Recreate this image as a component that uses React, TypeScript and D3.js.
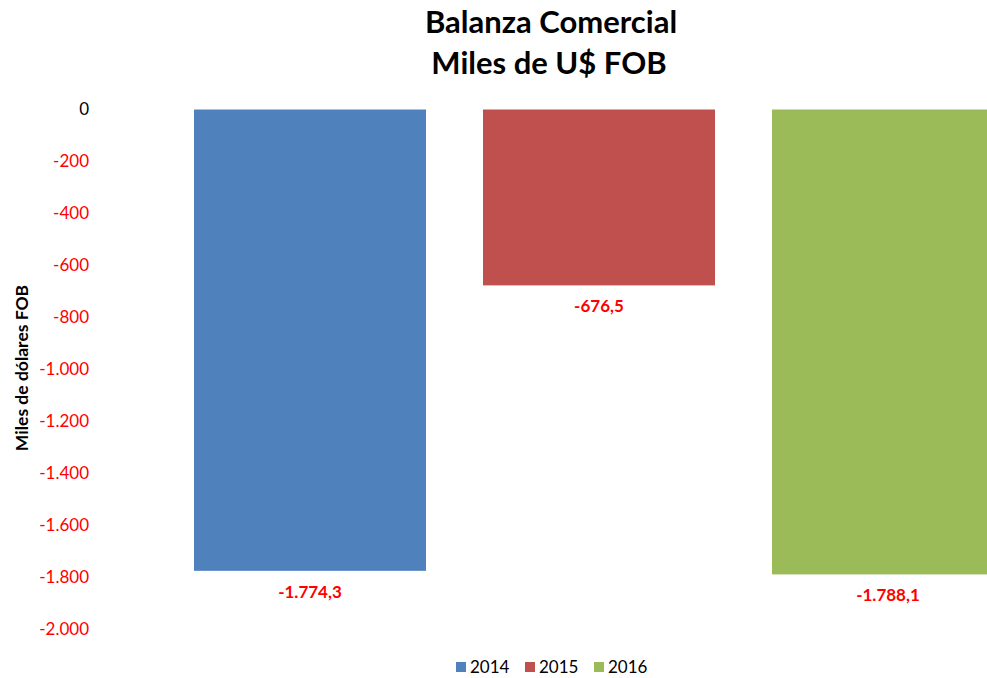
import React from "react";
import * as d3 from "d3";

const years = ["2014", "2015", "2016"];
const values = [-1774.3, -676.5, -1788.1];
const colors = ["#4F81BD", "#C0504D", "#9BBB59"];
const yTicks = [0, -200, -400, -600, -800, -1000, -1200, -1400, -1600, -1800, -2000];
const labels = ["-1.774,3", "-676,5", "-1.788,1"];

const W = 987;
const H = 678;
const FONT = "Lato, 'Open Sans', sans-serif";

const fmt = (v: number) => {
  const s = Math.abs(v).toString().replace(/\B(?=(\d{3})+(?!\d))/g, ".");
  return v < 0 ? "-" + s : s;
};

export default function App() {
  const y = d3.scaleLinear().domain([-2000, 0]).range([629.5, 109.5]);
  const x = d3
    .scaleBand<string>()
    .domain(years)
    .range([194, 1004])
    .paddingInner(57 / 289)
    .paddingOuter(0);

  return (
    <svg
      width={W}
      height={H}
      style={{ position: "absolute", left: 0, top: 0, background: "#fff" }}
      fontFamily={FONT}
    >
      <rect x={0} y={0} width={W} height={H} fill="#fff" />
      <text x={551} y={33} textAnchor="middle" fontSize={31} fontWeight="bold" fill="#000">
        Balanza Comercial
      </text>
      <text x={549} y={74} textAnchor="middle" fontSize={31} fontWeight="bold" fill="#000">
        Miles de U$ FOB
      </text>

      {yTicks.map((t) => (
        <text
          key={t}
          x={89}
          y={y(t)}
          dy="0.35em"
          textAnchor="end"
          fontSize={17}
          fill={t === 0 ? "#000" : "#FF0000"}
        >
          {fmt(t)}
        </text>
      ))}

      <text
        transform={`translate(28,${368}) rotate(-90)`}
        textAnchor="middle"
        fontSize={17.5}
        fontWeight="bold"
        fill="#000"
      >
        Miles de dólares FOB
      </text>

      {years.map((yr, i) => {
        const bx = x(yr) as number;
        const y0 = y(0);
        const y1 = y(values[i]);
        return (
          <g key={yr}>
            <rect x={bx} y={y0} width={x.bandwidth()} height={y1 - y0} fill={colors[i]} />
            <text
              x={bx + x.bandwidth() / 2}
              y={y1 + 21}
              dy="0.35em"
              textAnchor="middle"
              fontSize={17}
              fontWeight="bold"
              fill="#FF0000"
            >
              {labels[i]}
            </text>
          </g>
        );
      })}

      {years.map((yr, i) => {
        const lx = 456 + i * 69;
        return (
          <g key={"lg" + yr}>
            <rect x={lx} y={662} width={10} height={10} fill={colors[i]} />
            <text x={lx + 14} y={667} dy="0.35em" fontSize={17} fill="#000">
              {yr}
            </text>
          </g>
        );
      })}
    </svg>
  );
}
